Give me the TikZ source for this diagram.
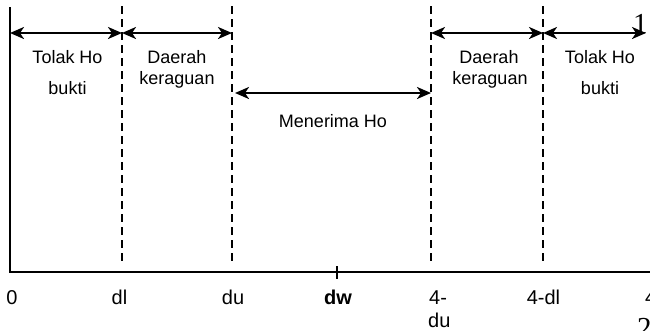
\documentclass[tikz,border=0pt]{standalone}
\usepackage{fontspec}
\setmainfont{Liberation Sans}
\newfontfamily\serifdigits{Liberation Serif}
\usetikzlibrary{arrows.meta}

\begin{document}
\begin{tikzpicture}[x=1pt,y=-1pt,
  region/.style={font=\fontsize{18}{20}\selectfont, anchor=base, inner sep=0pt},
  axislabel/.style={font=\fontsize{20}{22}\selectfont, anchor=base, inner sep=0pt},
  marginnum/.style={font=\serifdigits\fontsize{29}{30}\selectfont, anchor=base west, inner sep=0pt},
  span/.style={line width=2.3pt,
    {Stealth[length=14pt,width=12pt,inset=4pt]}-{Stealth[length=14pt,width=12pt,inset=4pt]}},
  bound/.style={line width=1.8pt, dash pattern=on 8pt off 5pt},
  frame/.style={line width=2pt, line join=miter}]
\useasboundingbox (0,0) rectangle (650,330);
\clip (0,0) rectangle (650,330);

% axes
\coordinate (ytop) at (10,7);
\coordinate (origin) at (10,272);
\coordinate (xend) at (652,272);
\draw[frame] (ytop) -- (origin) -- (xend);

% tick at dw
\coordinate (tickA) at (337,266);
\coordinate (tickB) at (337,279);
\draw[line width=1.4pt] (tickA) -- (tickB);

% dashed region boundaries
\foreach \name/\x in {dl/122, du/232, udu/431, udl/543}{
  \coordinate (\name top) at (\x,6);
  \coordinate (\name bot) at (\x,265);
  \draw[bound] (\name top) -- (\name bot);
}

% arrow end points
\coordinate (r0) at (10,33);
\coordinate (r1) at (122,33);
\coordinate (r2) at (232,33);
\coordinate (r3) at (431,33);
\coordinate (r4) at (543,33);
\coordinate (r5) at (646,33);
\coordinate (m1) at (235,93);
\coordinate (m2) at (431,93);

\draw[span] (r0) -- (r1);
\draw[span] (r1) -- (r2);
\draw[span] (r3) -- (r4);
\draw[span] (r4) -- (r5);
\draw[span] (m1) -- (m2);

% region labels
\node[region] (tolakL) at (67.5,63) {Tolak Ho};
\node[region] (buktiL) at (67.5,94) {bukti};
\node[region] (daerahL) at (177,63) {Daerah};
\node[region] (ragL) at (177,84) {keraguan};
\node[region] (terima) at (333,127) {Menerima Ho};
\node[region] (daerahR) at (489,63) {Daerah};
\node[region] (ragR) at (490,84) {keraguan};
\node[region] (tolakR) at (600,63) {Tolak Ho};
\node[region] (buktiR) at (600,94) {bukti};

% axis labels
\node[axislabel] (l0) at (12,304) {0};
\node[axislabel] (ldl) at (119.5,304) {dl};
\node[axislabel] (ldu) at (233,304) {du};
\node[axislabel, font=\bfseries\fontsize{20}{22}\selectfont] (ldw) at (338,304) {dw};
\node[axislabel, anchor=base west] (l4a) at (429,304) {4-};
\node[axislabel, anchor=base west] (l4b) at (428,327) {du};
\node[axislabel] (l4dl) at (543.5,304) {4-dl};
\node[axislabel, anchor=base west] (l4) at (645,304) {4};

% numbers at the right margin
\node[marginnum] (numA) at (633,33) {1};
\node[marginnum] (numB) at (637,337) {2};
\end{tikzpicture}
\end{document}
